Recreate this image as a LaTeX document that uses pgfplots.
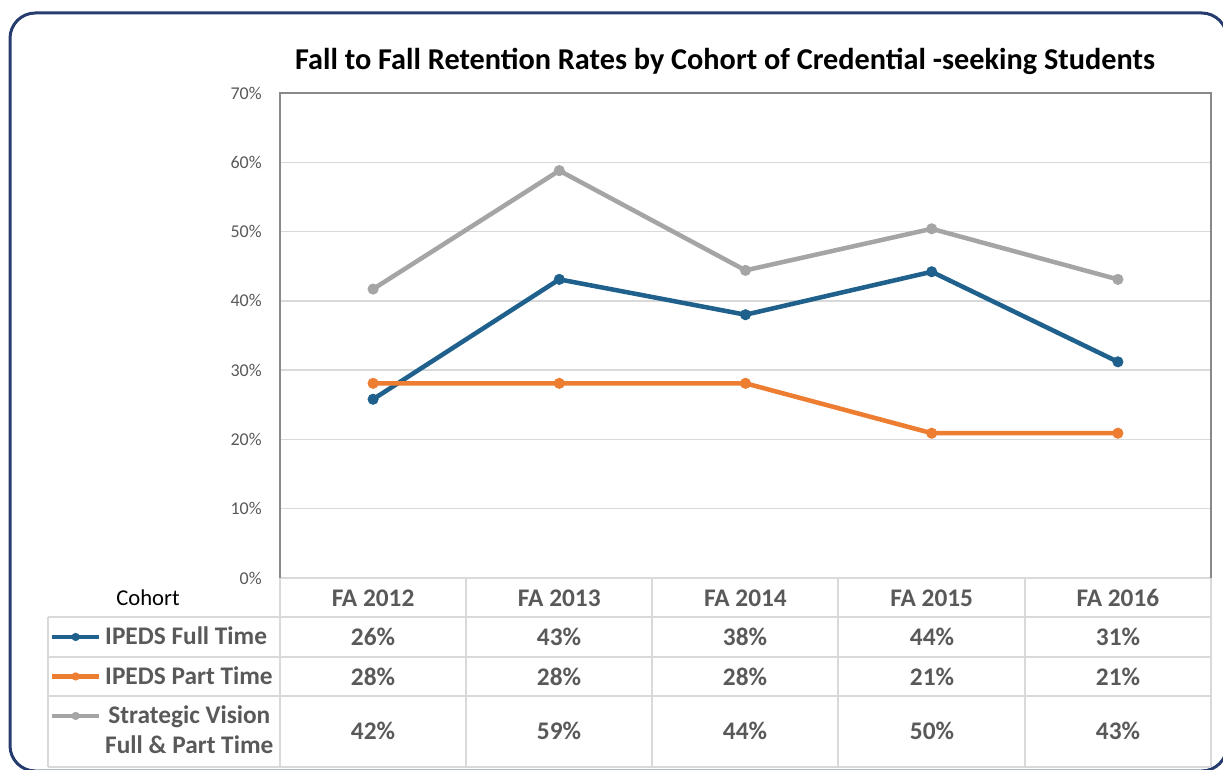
\documentclass[border=0pt]{standalone}
\usepackage{pgfplots}
\pgfplotsset{compat=1.18}
\usepackage{fontspec}
\setmainfont{Carlito}
\definecolor{ftblue}{RGB}{31,96,140}
\definecolor{ptorange}{RGB}{237,125,49}
\definecolor{svgray}{RGB}{165,165,165}
\definecolor{gridgray}{RGB}{217,217,217}
\definecolor{axisgray}{RGB}{137,137,137}
\definecolor{txtgray}{RGB}{89,89,89}
\definecolor{navy}{RGB}{38,60,110}
\begin{document}
\begin{tikzpicture}
\begin{scope}[x=0.75pt,y=-0.75pt]
\useasboundingbox (0,0) rectangle (1223,770);
\begin{scope}
\clip (0,0) rectangle (1223,770);
\draw[navy, line width=2.25pt, rounded corners=19pt] (10,13) rectangle (1227,771);
\end{scope}
\draw[gridgray, line width=1.1pt] (280,578) -- (1211,578);
\foreach \yy in {617,657,696,767} \draw[gridgray, line width=1.1pt] (48,\yy) -- (1211,\yy);
\draw[gridgray, line width=1.1pt] (48,617) -- (48,767);
\foreach \xx in {280,466,652,838,1025,1211} \draw[gridgray, line width=1.1pt] (\xx,578) -- (\xx,767);
\node[font=\fontsize{22.7}{26}\selectfont\bfseries] at (725,61) {Fall to Fall Retention Rates by Cohort of Credential -seeking Students};
\node[font=\fontsize{17}{20}\selectfont] at (148,598) {Cohort};
\begin{scope}[every node/.style={font=\fontsize{19}{22}\selectfont\bfseries, text=txtgray}]
\node at (373,637) {26\%}; \node at (559,637) {43\%}; \node at (745,637) {38\%}; \node at (932,637) {44\%}; \node at (1118,637) {31\%};
\node at (373,677) {28\%}; \node at (559,677) {28\%}; \node at (745,677) {28\%}; \node at (932,677) {21\%}; \node at (1118,677) {21\%};
\node at (373,731) {42\%}; \node at (559,731) {59\%}; \node at (745,731) {44\%}; \node at (932,731) {50\%}; \node at (1118,731) {43\%};
\end{scope}
\end{scope}
\begin{axis}[
  at={(210pt,-433.5pt)}, anchor=south west,
  scale only axis, width=698.25pt, height=363.75pt,
  xmin=-0.5, xmax=4.5, ymin=0, ymax=70,
  xtick={0,1,2,3,4},
  xticklabels={FA 2012,FA 2013,FA 2014,FA 2015,FA 2016},
  x tick label style={font=\fontsize{19}{22}\selectfont\bfseries, text=txtgray, anchor=center, yshift=-15pt},
  ytick={0,10,20,30,40,50,60,70},
  yticklabels={0\%,10\%,20\%,30\%,40\%,50\%,60\%,70\%},
  y tick label style={font=\fontsize{13.5}{15}\selectfont, text=txtgray, anchor=east, inner sep=0pt, xshift=-13.5pt},
  major tick length=0pt, tick style={draw=none},
  ymajorgrids, major grid style={gridgray, line width=1.1pt},
  axis line style={draw=none},
  extra description/.code={\draw[axisgray, line width=1pt] (rel axis cs:0,0) -- (rel axis cs:0,1) -- (rel axis cs:1,1) -- (rel axis cs:1,0);},
  clip=false,
  legend image code/.code={\draw[mark repeat=2, mark phase=2, #1] plot coordinates {(0pt,6pt) (17.5pt,6pt) (35pt,6pt)};},
  legend image post style={mark size=2.8pt},
  legend style={at={(-0.2470,-0.0996)}, anchor=north west, draw=none, fill=none,
    inner sep=0pt, outer sep=0pt, font=\fontsize{19}{22.5}\selectfont\bfseries, text=txtgray,
    row sep=10.6pt, column sep=3pt,
    nodes={inner sep=0pt, text height=14pt, text depth=5pt},
    cells={anchor=base west}},
]
\addplot[ftblue, line width=3.4pt, mark=*, mark size=3.9pt, mark options={solid, fill=ftblue, draw=ftblue, line width=0.5pt}]
  coordinates {(0,25.8) (1,43.1) (2,38.0) (3,44.2) (4,31.2)};
\addlegendentry{IPEDS Full Time}
\addplot[ptorange, line width=3.4pt, mark=*, mark size=3.9pt, mark options={solid, fill=ptorange, draw=ptorange, line width=0.5pt}]
  coordinates {(0,28.1) (1,28.1) (2,28.1) (3,20.9) (4,20.9)};
\addlegendentry{IPEDS Part Time}
\addplot[svgray, line width=3.4pt, mark=*, mark size=3.9pt, mark options={solid, fill=svgray, draw=svgray, line width=0.5pt}]
  coordinates {(0,41.7) (1,58.8) (2,44.4) (3,50.4) (4,43.1)};
\addlegendentry{\begin{tabular}[t]{@{}c@{}}Strategic Vision\\Full \& Part Time\end{tabular}}
\end{axis}
\end{tikzpicture}
\end{document}
